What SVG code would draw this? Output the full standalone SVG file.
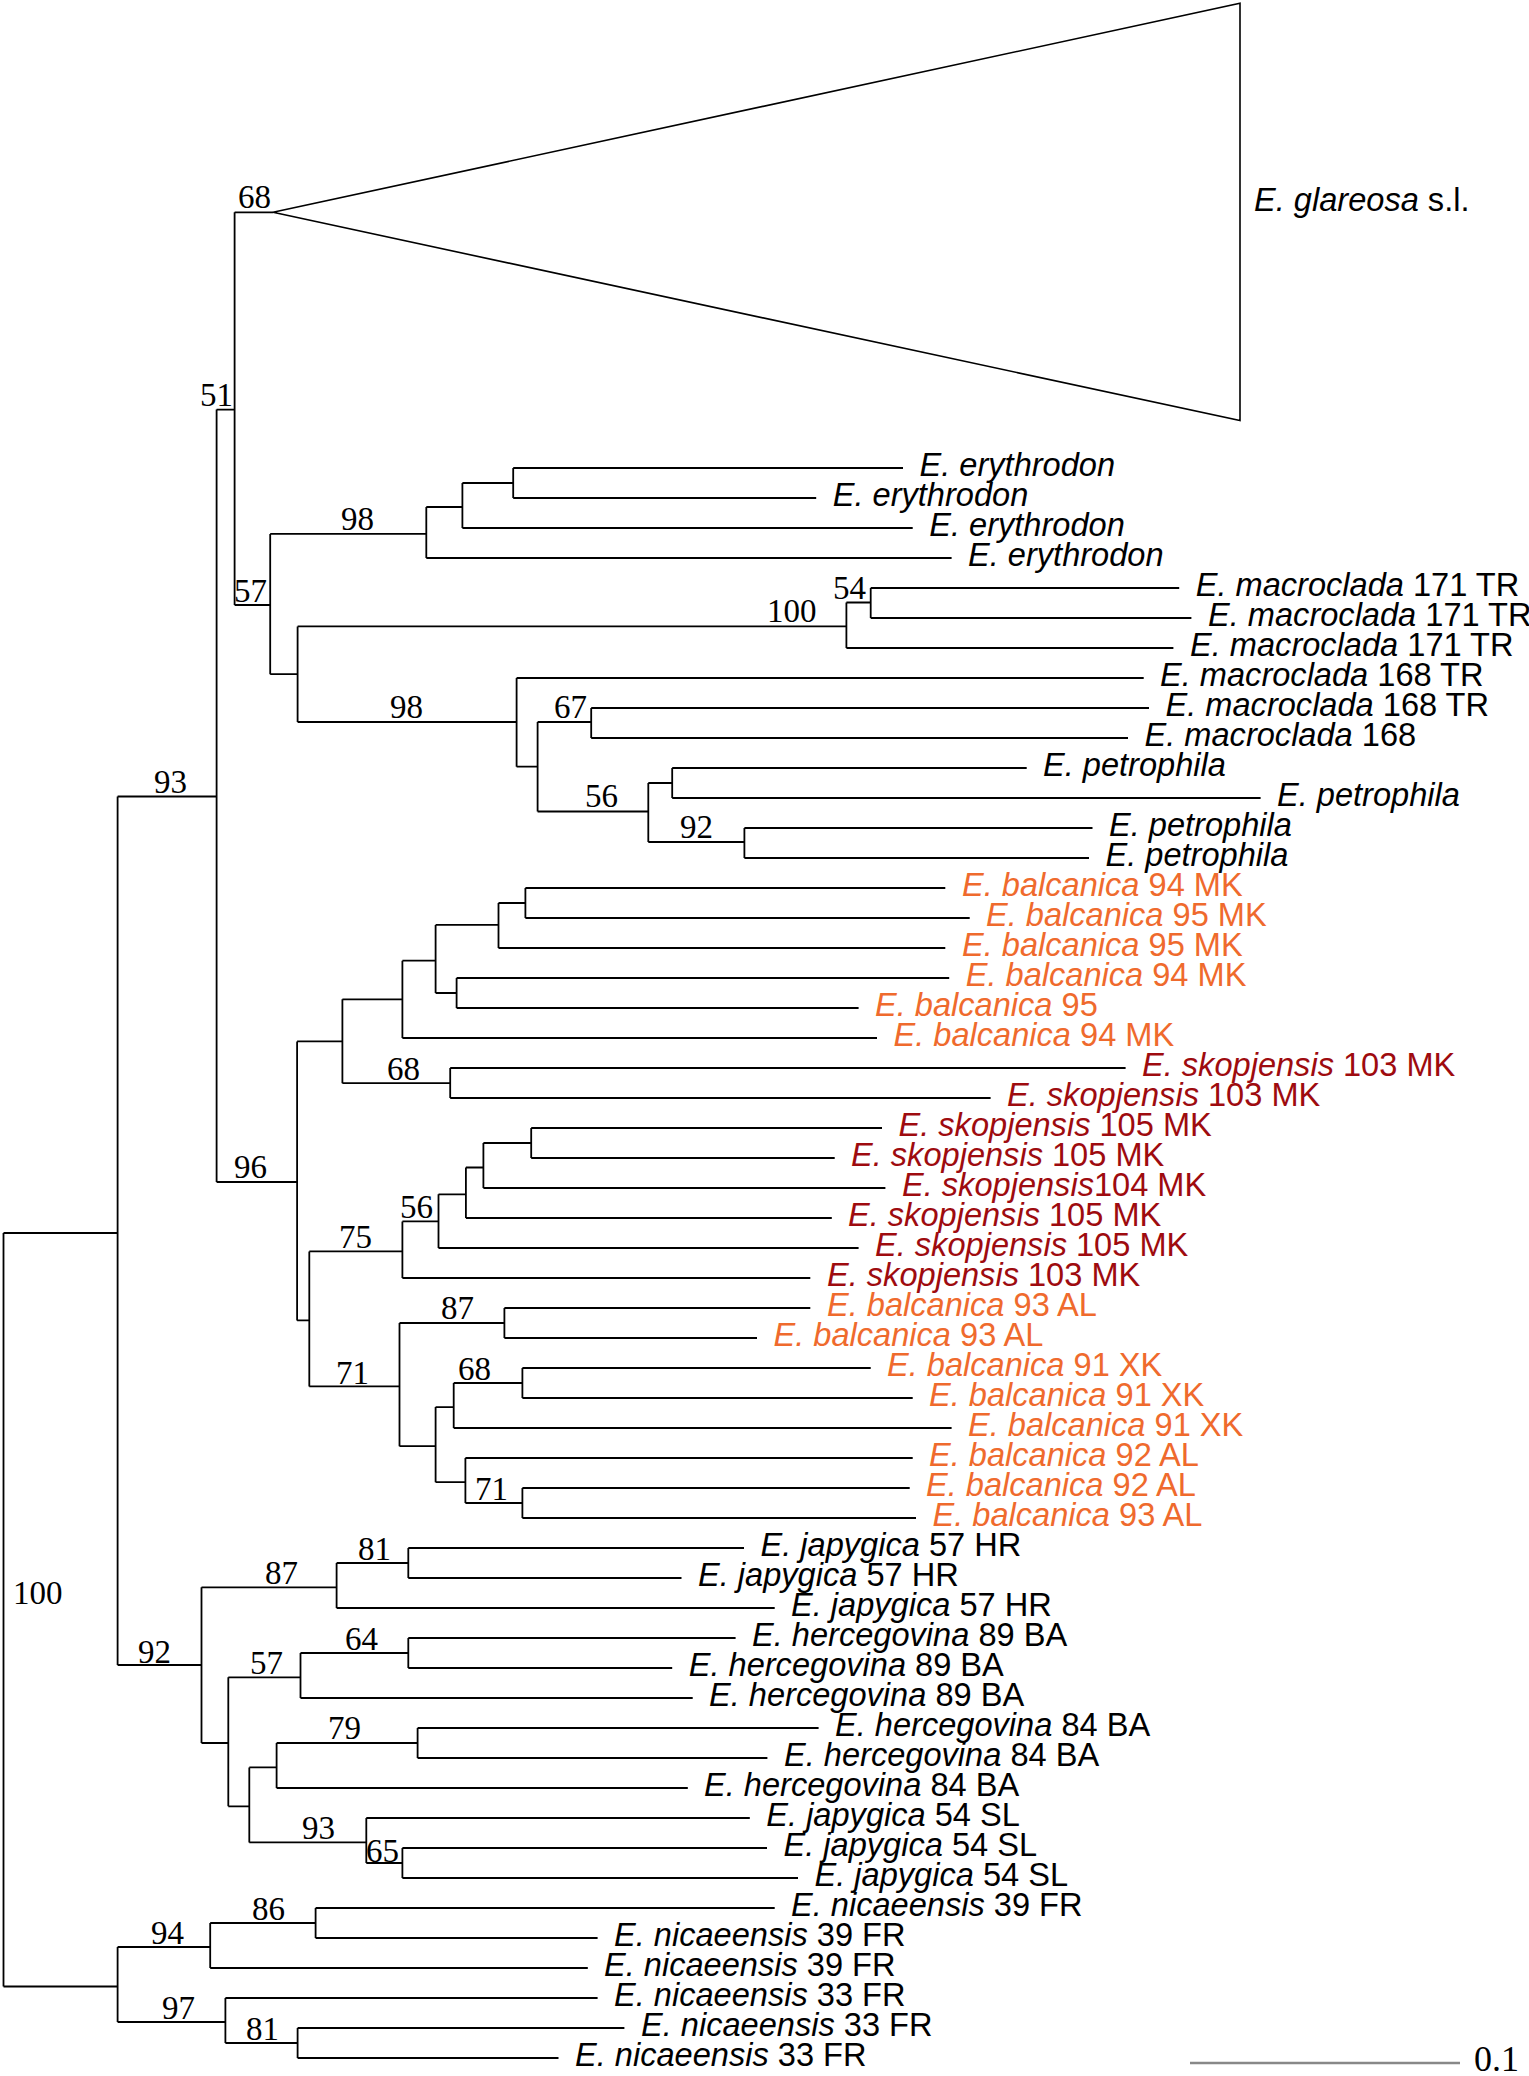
<svg xmlns="http://www.w3.org/2000/svg" width="1529" height="2076" viewBox="0 0 1529 2076">
<style>
.ln{fill:none;stroke:#000;stroke-width:1.8}
.t{font-family:"Liberation Sans",Arial,sans-serif;font-size:32.6px;fill:#000}
.i{font-style:italic}
.o{fill:#ef6a2d}
.r{fill:#9e0b0f}
.b{font-family:"Liberation Serif","Times New Roman",serif;font-size:33px;fill:#000}
</style>
<rect width="1529" height="2076" fill="#fff"/>
<g id="connectors" class="ln">
<path d="M3.5 1233V1986.5M3.5 1233H117.6M3.5 1986.5H117.6M117.6 796.5V1665M117.6 796.5H216.6M216.6 409.6V1182M216.6 409.6H234.6M234.6 212.3V605M234.6 212.3H273M234.6 605H270.2M270.2 533.9V674.2M270.2 533.9H426.3M426.3 507V558M426.3 507H462.4M462.4 483V528M462.4 483H513.2M513.2 468V498M513.2 468H903M513.2 498H816.2M462.4 528H912.7M426.3 558H951.6"/>
<path d="M270.2 674.2H297.6M297.6 626.4V722M297.6 626.4H846.4M846.4 602.5V648M846.4 602.5H870.7M870.7 588V618M870.7 588H1179.2M870.7 618H1191.4M846.4 648H1173.4M297.6 722H516.6M516.6 678V766.7M516.6 678H1143.7M516.6 766.7H537.6M537.6 722V811.5M537.6 722H591.2M591.2 708V738M591.2 708H1149M591.2 738H1128M537.6 811.5H648.3M648.3 783V842M648.3 783H672.2M672.2 768V798M672.2 768H1026.7M672.2 798H1260.6M648.3 842H744.4M744.4 828V858M744.4 828H1092.5M744.4 858H1089"/>
<path d="M216.6 1182H297.1M297.1 1041.4V1320.4M297.1 1041.4H342.4M342.4 999.3V1083.2M342.4 999.3H402.4M402.4 960.7V1038M402.4 960.7H435.6M435.6 924.9V993M435.6 924.9H498.5M498.5 903V948M498.5 903H525.4M525.4 888V918M525.4 888H945.3M525.4 918H969.7M498.5 948H945.3M435.6 993H456.6M456.6 978V1008M456.6 978H949.2M456.6 1008H858.6M402.4 1038H877M342.4 1083.2H450.2M450.2 1068V1098M450.2 1068H1125.6M450.2 1098H990.6"/>
<path d="M297.1 1320.4H309.3M309.3 1251.4V1386.4M309.3 1251.4H402.4M402.4 1221.4V1278M402.4 1221.4H438.5M438.5 1194.3V1248M438.5 1194.3H465.9M465.9 1167.5V1218M465.9 1167.5H483.4M483.4 1143V1188M483.4 1143H531.2M531.2 1128V1158M531.2 1128H882M531.2 1158H834.7M483.4 1188H885.4M465.9 1218H831.8M438.5 1248H858.6M402.4 1278H810.3"/>
<path d="M309.3 1386.4H399.5M399.5 1323V1446.2M399.5 1323H504.4M504.4 1308V1338M504.4 1308H810.3M504.4 1338H757M399.5 1446.2H435.6M435.6 1407.1V1482.2M435.6 1407.1H453.7M453.7 1383V1428M453.7 1383H522.4M522.4 1368V1398M522.4 1368H870.7M522.4 1398H912.7M453.7 1428H951.6M435.6 1482.2H465.4M465.4 1458V1503M465.4 1458H912.7M465.4 1503H522.4M522.4 1488V1518M522.4 1488H909.7M522.4 1518H916"/>
<path d="M117.6 1665H201.5M201.5 1587.3V1743M201.5 1587.3H336.6M336.6 1563V1608M336.6 1563H408.3M408.3 1548V1578M408.3 1548H744M408.3 1578H681.5M336.6 1608H774.7M201.5 1743H228.3M228.3 1677.3V1806.3M228.3 1677.3H300.5M300.5 1653V1698M300.5 1653H408.3M408.3 1638V1668M408.3 1638H735.6M408.3 1668H672.2M300.5 1698H692.7M228.3 1806.3H249.3M249.3 1767.4V1842.4M249.3 1767.4H276.6M276.6 1743V1788M276.6 1743H417.6M417.6 1728V1758M417.6 1728H818.6M417.6 1758H767.4M276.6 1788H687.8M249.3 1842.4H366.3M366.3 1818V1863M366.3 1818H749.8M366.3 1863H402.4M402.4 1848V1878M402.4 1848H767M402.4 1878H798"/>
<path d="M117.6 1947V2022M117.6 1947H210.2M210.2 1923V1968M210.2 1923H315.6M315.6 1908V1938M315.6 1908H774.7M315.6 1938H597.6M210.2 1968H587.8M117.6 2022H225.4M225.4 1998V2043M225.4 1998H597.6M225.4 2043H297.6M297.6 2028V2058M297.6 2028H624.4M297.6 2058H558.5"/>
<path d="M273 212.3L1240 3.3V420.6Z" stroke-width="1.6"/>
</g>
<g id="support" class="b">
<text x="238" y="208">68</text>
<text x="200" y="406">51</text>
<text x="234" y="602">57</text>
<text x="341" y="530">98</text>
<text x="767" y="622">100</text>
<text x="833" y="599">54</text>
<text x="390" y="718">98</text>
<text x="554" y="718">67</text>
<text x="585" y="807">56</text>
<text x="680" y="838">92</text>
<text x="154" y="793">93</text>
<text x="387" y="1080">68</text>
<text x="234" y="1178">96</text>
<text x="339" y="1248">75</text>
<text x="400" y="1218">56</text>
<text x="441" y="1319">87</text>
<text x="336" y="1384">71</text>
<text x="458" y="1380">68</text>
<text x="475" y="1500">71</text>
<text x="13" y="1604">100</text>
<text x="138" y="1663">92</text>
<text x="265" y="1584">87</text>
<text x="358" y="1560">81</text>
<text x="250" y="1674">57</text>
<text x="345" y="1650">64</text>
<text x="328" y="1739">79</text>
<text x="302" y="1839">93</text>
<text x="366" y="1862">65</text>
<text x="151" y="1944">94</text>
<text x="252" y="1920">86</text>
<text x="162" y="2019">97</text>
<text x="246" y="2040">81</text>
</g>
<g id="glareosa"><text class="t" x="1254" y="211"><tspan class="i">E. glareosa</tspan> s.l.</text></g>
<g id="leaf0"><text class="t i" x="919.5" y="476">E. erythrodon</text></g>
<g id="leaf1"><text class="t i" x="832.7" y="506">E. erythrodon</text></g>
<g id="leaf2"><text class="t i" x="929.2" y="536">E. erythrodon</text></g>
<g id="leaf3"><text class="t i" x="968" y="566">E. erythrodon</text></g>
<g id="leaf4"><text class="t" x="1195.7" y="596"><tspan class="i">E. macroclada</tspan> 171 TR</text></g>
<g id="leaf5"><text class="t" x="1208" y="626"><tspan class="i">E. macroclada</tspan> 171 TR</text></g>
<g id="leaf6"><text class="t" x="1190" y="656"><tspan class="i">E. macroclada</tspan> 171 TR</text></g>
<g id="leaf7"><text class="t" x="1160" y="686"><tspan class="i">E. macroclada</tspan> 168 TR</text></g>
<g id="leaf8"><text class="t" x="1165.5" y="716"><tspan class="i">E. macroclada</tspan> 168 TR</text></g>
<g id="leaf9"><text class="t" x="1144.5" y="746"><tspan class="i">E. macroclada</tspan> 168</text></g>
<g id="leaf10"><text class="t i" x="1043" y="776">E. petrophila</text></g>
<g id="leaf11"><text class="t i" x="1277" y="806">E. petrophila</text></g>
<g id="leaf12"><text class="t i" x="1109" y="836">E. petrophila</text></g>
<g id="leaf13"><text class="t i" x="1105.5" y="866">E. petrophila</text></g>
<g id="leaf14"><text class="t o" x="962" y="896"><tspan class="i">E. balcanica</tspan> 94 MK</text></g>
<g id="leaf15"><text class="t o" x="986" y="926"><tspan class="i">E. balcanica</tspan> 95 MK</text></g>
<g id="leaf16"><text class="t o" x="962" y="956"><tspan class="i">E. balcanica</tspan> 95 MK</text></g>
<g id="leaf17"><text class="t o" x="965.7" y="986"><tspan class="i">E. balcanica</tspan> 94 MK</text></g>
<g id="leaf18"><text class="t o" x="875" y="1016"><tspan class="i">E. balcanica</tspan> 95</text></g>
<g id="leaf19"><text class="t o" x="893.5" y="1046"><tspan class="i">E. balcanica</tspan> 94 MK</text></g>
<g id="leaf20"><text class="t r" x="1142" y="1076"><tspan class="i">E. skopjensis</tspan> 103 MK</text></g>
<g id="leaf21"><text class="t r" x="1007" y="1106"><tspan class="i">E. skopjensis</tspan> 103 MK</text></g>
<g id="leaf22"><text class="t r" x="898.5" y="1136"><tspan class="i">E. skopjensis</tspan> 105 MK</text></g>
<g id="leaf23"><text class="t r" x="851" y="1166"><tspan class="i">E. skopjensis</tspan> 105 MK</text></g>
<g id="leaf24"><text class="t r" x="902" y="1196"><tspan class="i">E. skopjensis</tspan>104 MK</text></g>
<g id="leaf25"><text class="t r" x="848" y="1226"><tspan class="i">E. skopjensis</tspan> 105 MK</text></g>
<g id="leaf26"><text class="t r" x="875" y="1256"><tspan class="i">E. skopjensis</tspan> 105 MK</text></g>
<g id="leaf27"><text class="t r" x="827" y="1286"><tspan class="i">E. skopjensis</tspan> 103 MK</text></g>
<g id="leaf28"><text class="t o" x="827" y="1316"><tspan class="i">E. balcanica</tspan> 93 AL</text></g>
<g id="leaf29"><text class="t o" x="773.5" y="1346"><tspan class="i">E. balcanica</tspan> 93 AL</text></g>
<g id="leaf30"><text class="t o" x="887" y="1376"><tspan class="i">E. balcanica</tspan> 91 XK</text></g>
<g id="leaf31"><text class="t o" x="929" y="1406"><tspan class="i">E. balcanica</tspan> 91 XK</text></g>
<g id="leaf32"><text class="t o" x="968" y="1436"><tspan class="i">E. balcanica</tspan> 91 XK</text></g>
<g id="leaf33"><text class="t o" x="929" y="1466"><tspan class="i">E. balcanica</tspan> 92 AL</text></g>
<g id="leaf34"><text class="t o" x="926" y="1496"><tspan class="i">E. balcanica</tspan> 92 AL</text></g>
<g id="leaf35"><text class="t o" x="932.5" y="1526"><tspan class="i">E. balcanica</tspan> 93 AL</text></g>
<g id="leaf36"><text class="t" x="760.5" y="1556"><tspan class="i">E. japygica</tspan> 57 HR</text></g>
<g id="leaf37"><text class="t" x="698" y="1586"><tspan class="i">E. japygica</tspan> 57 HR</text></g>
<g id="leaf38"><text class="t" x="791" y="1616"><tspan class="i">E. japygica</tspan> 57 HR</text></g>
<g id="leaf39"><text class="t" x="752" y="1646"><tspan class="i">E. hercegovina</tspan> 89 BA</text></g>
<g id="leaf40"><text class="t" x="688.7" y="1676"><tspan class="i">E. hercegovina</tspan> 89 BA</text></g>
<g id="leaf41"><text class="t" x="709" y="1706"><tspan class="i">E. hercegovina</tspan> 89 BA</text></g>
<g id="leaf42"><text class="t" x="835" y="1736"><tspan class="i">E. hercegovina</tspan> 84 BA</text></g>
<g id="leaf43"><text class="t" x="784" y="1766"><tspan class="i">E. hercegovina</tspan> 84 BA</text></g>
<g id="leaf44"><text class="t" x="704" y="1796"><tspan class="i">E. hercegovina</tspan> 84 BA</text></g>
<g id="leaf45"><text class="t" x="766.3" y="1826"><tspan class="i">E. japygica</tspan> 54 SL</text></g>
<g id="leaf46"><text class="t" x="783.5" y="1856"><tspan class="i">E. japygica</tspan> 54 SL</text></g>
<g id="leaf47"><text class="t" x="814.5" y="1886"><tspan class="i">E. japygica</tspan> 54 SL</text></g>
<g id="leaf48"><text class="t" x="791" y="1916"><tspan class="i">E. nicaeensis</tspan> 39 FR</text></g>
<g id="leaf49"><text class="t" x="614" y="1946"><tspan class="i">E. nicaeensis</tspan> 39 FR</text></g>
<g id="leaf50"><text class="t" x="604" y="1976"><tspan class="i">E. nicaeensis</tspan> 39 FR</text></g>
<g id="leaf51"><text class="t" x="614" y="2006"><tspan class="i">E. nicaeensis</tspan> 33 FR</text></g>
<g id="leaf52"><text class="t" x="641" y="2036"><tspan class="i">E. nicaeensis</tspan> 33 FR</text></g>
<g id="leaf53"><text class="t" x="575" y="2066"><tspan class="i">E. nicaeensis</tspan> 33 FR</text></g>
<g id="scalebar">
<path d="M1190 2063H1460" stroke="#888" stroke-width="2.5" fill="none"/>
<text class="b" x="1474" y="2071" style="font-size:36px">0.1</text>
</g>
</svg>
